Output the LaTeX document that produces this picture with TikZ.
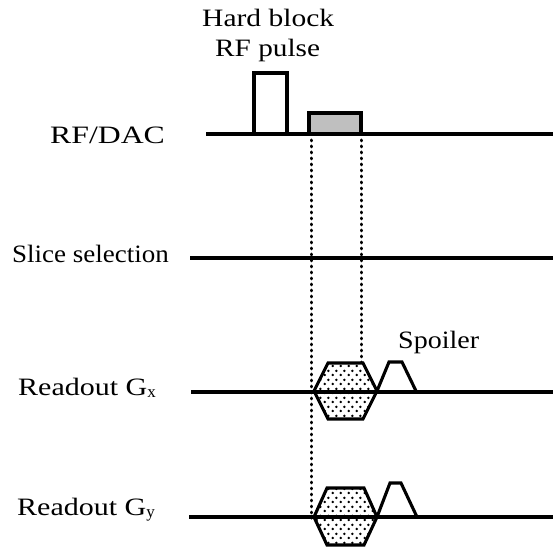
\documentclass[tikz,border=0pt]{standalone}
\usepackage{fontspec}
\setmainfont{Liberation Serif}
\usetikzlibrary{patterns.meta}
\tikzdeclarepattern{
  name=hexdots,
  type=uncolored,
  bounding box={(0pt,0pt) and (7.5pt,9pt)},
  tile size={(7.5pt,9pt)},
  code={\fill (1.875pt,2.25pt) circle (1.45pt); \fill (5.625pt,6.75pt) circle (1.45pt);}
}
\newcommand\myxs[2]{\scalebox{#1}[1]{#2}}
\newcommand\mysub[1]{\raisebox{-2.5pt}{\fontsize{17}{17}\selectfont #1}}
\begin{document}
\begin{tikzpicture}[x=1pt,y=-1pt,
  lbl/.style={anchor=base west, inner sep=0pt, font=\fontsize{25}{28}\selectfont},
  sig/.style={line width=3.1pt},
  dotl/.style={line width=3pt, dash pattern=on 0.8pt off 5.2pt, line cap=round},
  hexa/.style={draw, line width=3.1pt, line join=miter, preaction={fill=white}, pattern={hexdots}, pattern color=black},
  pulse/.style={draw, line width=3.1pt, line join=miter}]
\useasboundingbox (0,0) rectangle (553,548);

% labels
\node[lbl] (hardlbl) at (202,27) {\myxs{1.18}{Hard block}};
\node[lbl] (rflbl) at (215,57) {\myxs{1.17}{RF pulse}};
\node[lbl] (rfdac) at (50,143) {\myxs{1.27}{RF/DAC}};
\node[lbl] (slice) at (12,262) {\myxs{1.08}{Slice selection}};
\node[lbl] (gx) at (18,395) {\myxs{1.2}{Readout G}\mysub{x}};
\node[lbl] (gy) at (17,515) {\myxs{1.2}{Readout G}\mysub{y}};
\node[lbl] (spoiler) at (398,348) {\myxs{1.12}{Spoiler}};

% hexagons (readout)
\draw[hexa] (314,391) -- (328,363) -- (363,363) -- (377,391) -- (363,419) -- (328,419) -- cycle;
\draw[hexa] (314,517) -- (327,488) -- (364,488) -- (377,517) -- (364,545) -- (327,545) -- cycle;

% spoilers
\draw[pulse] (377,391) -- (389,362) -- (402,362) -- (416,391);
\draw[pulse] (377,517) -- (390,483) -- (401,483) -- (417,517);

% baselines
\coordinate (rfa) at (206,134); \coordinate (rfb) at (553,134);
\coordinate (ssa) at (190,258); \coordinate (ssb) at (553,258);
\coordinate (gxa) at (191,392); \coordinate (gxb) at (553,392);
\coordinate (gya) at (189,517); \coordinate (gyb) at (553,517);
\draw[sig] (rfa) -- (rfb);
\draw[sig] (ssa) -- (ssb);
\draw[sig] (gxa) -- (gxb);
\draw[sig] (gya) -- (gyb);

% RF pulses
\draw[pulse, fill=white] (254,134) rectangle (287,73);
\draw[pulse, fill=black!25] (309,134) rectangle (361,113);

% dotted guides
\coordinate (d1a) at (311,140); \coordinate (d1b) at (311,518);
\coordinate (d2a) at (361,140); \coordinate (d2b) at (361,362);
\draw[dotl] (d1a) -- (d1b);
\draw[dotl] (d2a) -- (d2b);
\end{tikzpicture}
\end{document}
